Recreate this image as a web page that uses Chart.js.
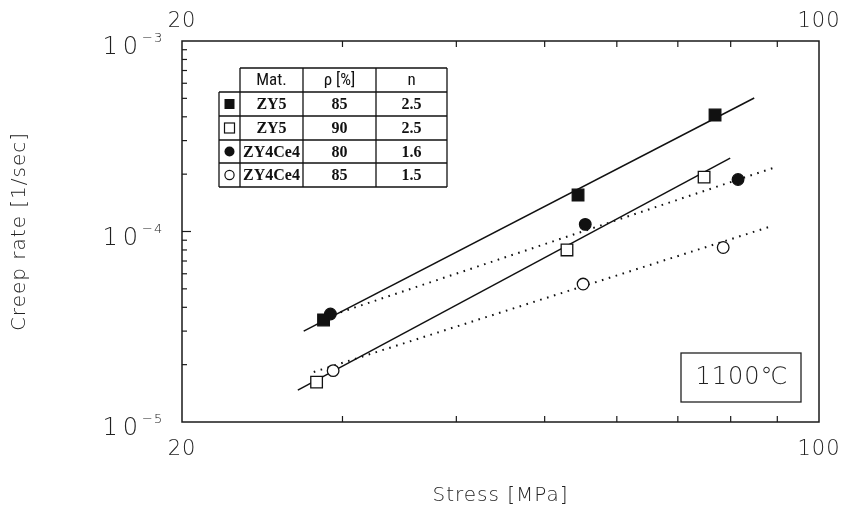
<!DOCTYPE html>
<html><head><meta charset="utf-8">
<script src="https://cdn.jsdelivr.net/npm/chart.js@4.4.0/dist/chart.umd.min.js"></script>
<style>html,body{margin:0;padding:0;background:#fff;}canvas{display:block;}</style>
</head><body>
<canvas id="c" width="843" height="509"></canvas>
<script>
// ---- data ----
const xTickValues = [20, 30, 40, 50, 60, 70, 80, 90, 100];
const xTickText   = ['20', '', '', '', '', '', '', '', '100'];
const yTickValues = [1e-5, 2e-5, 3e-5, 4e-5, 5e-5, 6e-5, 7e-5, 8e-5, 9e-5,
                     1e-4, 2e-4, 3e-4, 4e-4, 5e-4, 6e-4, 7e-4, 8e-4, 9e-4, 1e-3];
const yLabelValues = [1e-5, 1e-4, 1e-3];
const yLabelBase   = ['10', '10', '10'];
const yLabelExp    = ['−5', '−4', '−3'];

const zy5_85_stress = [28.6, 54.4, 76.9];
const zy5_85_rate   = [3.43e-5, 1.555e-4, 4.09e-4];
const zy5_90_stress = [28.1, 52.9, 74.8];
const zy5_90_rate   = [1.62e-5, 8.0e-5, 1.93e-4];
const zy4ce4_80_stress = [29.1, 55.4, 81.5];
const zy4ce4_80_rate   = [3.69e-5, 1.09e-4, 1.875e-4];
const zy4ce4_85_stress = [29.3, 55.1, 78.5];
const zy4ce4_85_rate   = [1.86e-5, 5.30e-5, 8.24e-5];

const fit_zy5_85_stress = [27.2, 84.9];
const fit_zy5_85_rate   = [3.0e-5, 5.02e-4];
const fit_zy5_90_stress = [26.8, 79.9];
const fit_zy5_90_rate   = [1.47e-5, 2.43e-4];
const fit_zy4ce4_80_stress = [28.35, 88.9];
const fit_zy4ce4_80_rate   = [3.47e-5, 2.15e-4];
const fit_zy4ce4_85_stress = [27.9, 88.9];
const fit_zy4ce4_85_rate   = [1.83e-5, 1.07e-4];

const tableHeader = ['Mat.', 'ρ [%]', 'n'];
const tableMat = ['ZY5', 'ZY5', 'ZY4Ce4', 'ZY4Ce4'];
const tableRho = ['85', '90', '80', '85'];
const tableN   = ['2.5', '2.5', '1.6', '1.5'];
const tempLabel = '1100℃';

// ---- helpers ----
const pts = (xs, ys) => xs.map((x, i) => ({x: x, y: ys[i]}));
const SANS = "'DejaVu Sans', 'Noto Sans', sans-serif";

function markerDs(label, xs, ys, style, filled, r) {
  return {label, data: pts(xs, ys), showLine: false, order: 0,
    pointStyle: style, pointRadius: r, pointHoverRadius: r,
    pointBackgroundColor: filled ? '#111' : '#fff',
    pointBorderColor: '#111', pointBorderWidth: 1.3};
}
function lineDs(label, xs, ys, dotted) {
  return {label, data: pts(xs, ys), showLine: true, order: 1,
    borderColor: '#111', borderWidth: dotted ? 2 : 1.5,
    borderDash: dotted ? [1.6, 5.6] : [], pointRadius: 0, fill: false};
}

const framePlugin = {
  id: 'frame',
  beforeDraw(chart) {
    const ctx = chart.ctx;
    ctx.save(); ctx.fillStyle = '#fff'; ctx.fillRect(0, 0, chart.width, chart.height); ctx.restore();
    try { ctx.letterSpacing = '1px'; } catch (e) {}
  },
  afterDraw(chart) {
    const {ctx, chartArea: a, scales} = chart;
    ctx.save();
    ctx.strokeStyle = '#1a1a1a';
    ctx.lineWidth = 1.5;
    ctx.strokeRect(a.left, a.top, a.right - a.left, a.bottom - a.top);
    ctx.lineWidth = 1.2;
    const seg = (x1, y1, x2, y2) => { ctx.beginPath(); ctx.moveTo(x1, y1); ctx.lineTo(x2, y2); ctx.stroke(); };
    xTickValues.forEach(v => {
      const px = scales.x.getPixelForValue(v);
      if (px <= a.left + 1 || px >= a.right - 1) return;
      seg(px, a.bottom, px, a.bottom - 6);
      seg(px, a.top, px, a.top + 6);
    });
    yTickValues.forEach(v => {
      const py = scales.y.getPixelForValue(v);
      if (py <= a.top + 1 || py >= a.bottom - 1) return;
      const major = yLabelValues.some(m => Math.abs(Math.log10(m) - Math.log10(v)) < 1e-6);
      seg(a.left, py, a.left + (major ? 9 : 5), py);
    });

    // ---- y tick labels with superscript exponents ----
    ctx.fillStyle = '#222';
    yLabelValues.forEach((v, i) => {
      const py = scales.y.getPixelForValue(v);
      ctx.letterSpacing = '5px';
      ctx.font = "300 24px " + SANS;
      ctx.textAlign = 'right'; ctx.textBaseline = 'alphabetic';
      ctx.fillText(yLabelBase[i], a.left - 39, py + 13);
      ctx.letterSpacing = '1px';
      ctx.font = "300 13px " + SANS;
      ctx.textAlign = 'left';
      ctx.fillText(yLabelExp[i], a.left - 40, py + 1);
    });

    // ---- table legend ----
    ctx.letterSpacing = '0px';
    const cols = [219, 240, 303, 376, 447];
    const rows = [68, 92, 116, 140, 163, 187];
    ctx.fillStyle = '#fff';
    ctx.fillRect(cols[1], rows[0], cols[4] - cols[1], rows[1] - rows[0]);
    ctx.fillRect(cols[0], rows[1], cols[4] - cols[0], rows[5] - rows[1]);
    ctx.strokeStyle = '#111'; ctx.lineWidth = 1.3;
    seg(cols[1], rows[0], cols[4], rows[0]);
    for (let r = 1; r < rows.length; r++) seg(cols[0], rows[r], cols[4], rows[r]);
    seg(cols[0], rows[1], cols[0], rows[5]);
    for (let c = 1; c < cols.length; c++) seg(cols[c], rows[0], cols[c], rows[5]);

    ctx.fillStyle = '#111';
    ctx.textAlign = 'center'; ctx.textBaseline = 'middle';
    ctx.font = "17px 'Liberation Sans Narrow', 'Roboto Condensed', 'Liberation Sans', sans-serif";
    for (let c = 0; c < 3; c++) {
      ctx.fillText(tableHeader[c], (cols[c + 1] + cols[c + 2]) / 2, (rows[0] + rows[1]) / 2 + 1);
    }
    ctx.font = "bold 16px 'Liberation Serif', 'DejaVu Serif', serif";
    for (let r = 0; r < 4; r++) {
      const cy = (rows[r + 1] + rows[r + 2]) / 2 + 1;
      ctx.fillText(tableMat[r], (cols[1] + cols[2]) / 2, cy);
      ctx.fillText(tableRho[r], (cols[2] + cols[3]) / 2, cy);
      ctx.fillText(tableN[r], (cols[3] + cols[4]) / 2, cy);
    }
    // markers in table
    const mx = (cols[0] + cols[1]) / 2;
    const mys = [0, 1, 2, 3].map(r => (rows[r + 1] + rows[r + 2]) / 2);
    ctx.lineWidth = 1.2; ctx.strokeStyle = '#111';
    ctx.fillStyle = '#111'; ctx.fillRect(mx - 5, mys[0] - 5, 10, 10);
    ctx.fillStyle = '#fff'; ctx.fillRect(mx - 5, mys[1] - 5, 10, 10); ctx.strokeRect(mx - 5, mys[1] - 5, 10, 10);
    ctx.fillStyle = '#111'; ctx.beginPath(); ctx.arc(mx, mys[2], 5, 0, Math.PI * 2); ctx.fill();
    ctx.fillStyle = '#fff'; ctx.beginPath(); ctx.arc(mx, mys[3], 4.6, 0, Math.PI * 2); ctx.fill(); ctx.stroke();

    // ---- temperature box ----
    ctx.lineWidth = 1.3; ctx.strokeStyle = '#222';
    ctx.fillStyle = '#fff';
    ctx.fillRect(681, 353, 120, 49);
    ctx.strokeRect(681, 353, 120, 49);
    ctx.fillStyle = '#222';
    ctx.letterSpacing = '1px';
    ctx.font = "300 24px " + SANS;
    ctx.textAlign = 'center'; ctx.textBaseline = 'middle';
    ctx.fillText(tempLabel, 742, 378);
    ctx.restore();
  }
};

const tickFont = {family: SANS, size: 21, weight: '300'};
const xTicksCommon = {
  autoSkip: false, maxRotation: 0, color: '#222', font: tickFont,
  callback: (v, i) => xTickText[i]
};
const noPadX = s => { s.paddingLeft = 0; s.paddingRight = 0; };

new Chart(document.getElementById('c'), {
  type: 'scatter',
  data: {
    datasets: [
      markerDs('ZY5 85%', zy5_85_stress, zy5_85_rate, 'rect', true, 8.2),
      markerDs('ZY5 90%', zy5_90_stress, zy5_90_rate, 'rect', false, 8.2),
      markerDs('ZY4Ce4 80%', zy4ce4_80_stress, zy4ce4_80_rate, 'circle', true, 5.8),
      markerDs('ZY4Ce4 85%', zy4ce4_85_stress, zy4ce4_85_rate, 'circle', false, 5.8),
      lineDs('fit ZY5 85%', fit_zy5_85_stress, fit_zy5_85_rate, false),
      lineDs('fit ZY5 90%', fit_zy5_90_stress, fit_zy5_90_rate, false),
      lineDs('fit ZY4Ce4 80%', fit_zy4ce4_80_stress, fit_zy4ce4_80_rate, true),
      lineDs('fit ZY4Ce4 85%', fit_zy4ce4_85_stress, fit_zy4ce4_85_rate, true)
    ]
  },
  options: {
    responsive: false, animation: false, devicePixelRatio: 1,
    layout: {padding: {left: 0, right: 24, top: 0, bottom: 0}},
    plugins: {legend: {display: false}, tooltip: {enabled: false}},
    scales: {
      x: {
        type: 'logarithmic', position: 'bottom', min: 20, max: 100,
        grid: {display: false, drawTicks: false}, border: {display: false},
        afterBuildTicks: s => { s.ticks = xTickValues.map(v => ({value: v})); },
        afterFit: s => { s.height = 87; noPadX(s); },
        ticks: Object.assign({padding: 15}, xTicksCommon),
        title: {display: true, text: 'Stress [MPa]', color: '#222',
                font: {family: SANS, size: 20, weight: '300'}, padding: {top: 0, bottom: 1}}
      },
      x2: {
        type: 'logarithmic', position: 'top', min: 20, max: 100,
        grid: {display: false, drawTicks: false}, border: {display: false},
        afterBuildTicks: s => { s.ticks = xTickValues.map(v => ({value: v})); },
        afterFit: s => { s.height = 41; noPadX(s); },
        ticks: Object.assign({padding: 7}, xTicksCommon)
      },
      y: {
        type: 'logarithmic', position: 'left', min: 1e-5, max: 1e-3,
        grid: {display: false, drawTicks: false}, border: {display: false},
        afterBuildTicks: s => { s.ticks = yTickValues.map(v => ({value: v})); },
        afterFit: s => { s.width = 182; s.paddingTop = 0; s.paddingBottom = 0; },
        ticks: {display: false},
        title: {display: true, text: 'Creep rate [1/sec]', color: '#222',
                font: {family: SANS, size: 20, weight: '300'}, padding: {top: 8, bottom: 0}}
      }
    }
  },
  plugins: [framePlugin]
});
</script>
</body></html>
